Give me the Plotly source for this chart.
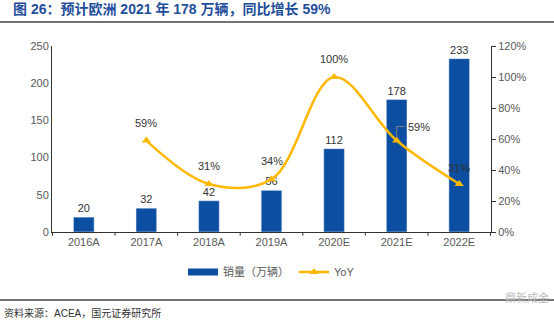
import plotly.graph_objects as go

categories = ["2016A", "2017A", "2018A", "2019A", "2020E", "2021E", "2022E"]
sales = [20, 32, 42, 56, 112, 178, 233]
yoy = [None, 59, 31, 34, 100, 59, 31]
yoy_labels = ["", "59%", "31%", "34%", "100%", "59%", "31%"]
left_ticks = [0, 50, 100, 150, 200, 250]
right_ticks = [0, 20, 40, 60, 80, 100, 120]
right_tick_text = ["0%", "20%", "40%", "60%", "80%", "100%", "120%"]

BLUE = "#0B4EA2"
GOLD = "#FFB800"
GRAY = "#595959"
FONT = "Liberation Sans, Arial, Noto Sans CJK SC"

fig = go.Figure()
fig.add_trace(go.Bar(
    x=categories, y=sales, name="销量（万辆）", marker_color=BLUE, width=0.33,
    text=[str(v) for v in sales], textposition="outside", showlegend=False,
    textfont=dict(size=11, color="#333333", family=FONT), cliponaxis=False,
))
# legend proxy for the bars (wide rectangle swatch)
fig.add_trace(go.Scatter(
    x=[None], y=[None], name="销量（万辆）", mode="lines",
    line=dict(color=BLUE, width=7),
))
fig.add_trace(go.Scatter(
    x=categories, y=yoy, name="YoY", yaxis="y2", mode="lines+markers",
    line=dict(color=GOLD, width=2.5, shape="spline", smoothing=1.0),
    marker=dict(symbol="triangle-up", size=8, color=GOLD), connectgaps=False,
))

# YoY labels
offsets = {1: (0, -18), 2: (0, -18), 3: (0, -18), 4: (0, -18), 5: (22, -14), 6: (0, -16)}
for i, (c, v, lab) in enumerate(zip(categories, yoy, yoy_labels)):
    if v is None:
        continue
    dx, dy = offsets[i]
    fig.add_annotation(x=c, y=v, yref="y2", text=lab, showarrow=False,
                       xshift=dx, yshift=-dy, font=dict(size=11, color="#333333", family=FONT))

# leader line for the 2021E YoY label
fig.add_shape(type="path", xref="x", yref="y2", xsizemode="pixel", ysizemode="pixel",
              xanchor=categories[5], yanchor=yoy[5],
              path="M 0,3 L 0,14 L 8,14", line=dict(color="#808080", width=1))

fig.update_layout(
    width=554, height=325,
    margin=dict(l=52, r=63, t=46, b=93),
    paper_bgcolor="white", plot_bgcolor="white",
    font=dict(family=FONT, color=GRAY, size=11),
    showlegend=True,
    legend=dict(orientation="h", x=0.5, xanchor="center", y=-(272 - 232) / 186,
                yanchor="middle", font=dict(size=11, color=GRAY), itemwidth=30),
    xaxis=dict(showline=True, linecolor="#333333", linewidth=1, ticks="",
               tickfont=dict(size=11, color=GRAY)),
    yaxis=dict(range=[0, 250], tickvals=left_ticks, showgrid=False, showline=True,
               linecolor="#333333", linewidth=1, zeroline=False,
               tickfont=dict(size=11, color=GRAY)),
    yaxis2=dict(range=[0, 120], tickvals=right_ticks, ticktext=right_tick_text,
                overlaying="y", side="right", showgrid=False, showline=True,
                linecolor="#333333", linewidth=1, ticks="outside", ticklen=4,
                tickcolor="#333333", zeroline=False, tickfont=dict(size=11, color=GRAY)),
)

# x-axis tick marks between categories
for k in range(len(categories) + 1):
    fig.add_shape(type="line", xref="x", yref="paper", x0=k - 0.5, x1=k - 0.5,
                  y0=0, y1=-0.02, line=dict(color="#333333", width=1))

# Title and rules
fig.add_annotation(xref="paper", yref="paper", x=-0.094, y=1.0, yshift=37, xanchor="left",
                   yanchor="middle", showarrow=False,
                   text="<b>图 26：预计欧洲 2021 年 178 万辆，同比增长 59%</b>",
                   font=dict(size=14, color="#1F4E9B", family=FONT))
fig.add_shape(type="line", xref="paper", yref="paper",
              x0=-52 / 439, x1=1 + 63 / 439, y0=1 + (46 - 22) / 186, y1=1 + (46 - 22) / 186,
              line=dict(color="#444444", width=1.5))
fig.add_shape(type="line", xref="paper", yref="paper",
              x0=-52 / 439, x1=1 + 63 / 439, y0=-(300 - 232) / 186, y1=-(300 - 232) / 186,
              line=dict(color="#444444", width=1.5))
fig.add_annotation(xref="paper", yref="paper", x=-50 / 439, y=-(313 - 232) / 186,
                   xanchor="left", yanchor="middle", showarrow=False,
                   text="资料来源：ACEA，国元证券研究所",
                   font=dict(size=10, color="#333333", family=FONT))
fig.add_annotation(xref="paper", yref="paper", x=1 + 60 / 439, y=-(297 - 232) / 186,
                   xanchor="right", yanchor="middle", showarrow=False,
                   text="鼎新成金", font=dict(size=11, color="#BBBBBB", family=FONT))

fig.write_html("out.html")
